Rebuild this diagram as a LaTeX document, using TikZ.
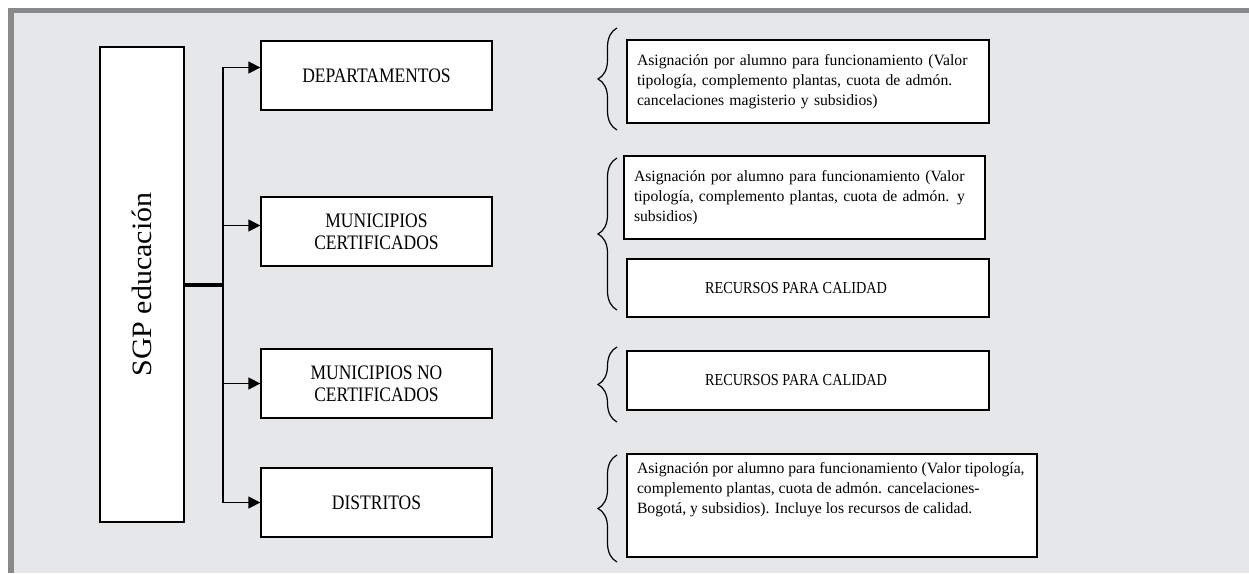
\documentclass[tikz,border=0pt]{standalone}
\usepackage{fontspec}
\setmainfont{Liberation Serif}
\newfontfamily\narrowfont[FakeStretch=0.85]{Liberation Serif}
\newfontfamily\widefont[FakeStretch=1.07]{Liberation Serif}
\usetikzlibrary{arrows.meta,decorations.pathreplacing,calc}

\definecolor{panelgray}{HTML}{E6E7E8}
\definecolor{framegray}{HTML}{88898B}

\begin{document}
\begin{tikzpicture}[x=1pt, y=-1pt,
        box/.style={draw, line width=1.3pt, fill=white, inner sep=0pt},
        midbox/.style={box, minimum width=231pt, minimum height=69pt, align=center,
            font=\narrowfont\fontsize{20.6}{21.7}\selectfont},
        infobox/.style={box, inner xsep=10pt, inner ysep=8pt, align=left,
            font=\fontsize{15.7}{20.3}\selectfont},
        calbox/.style={box, minimum width=362pt, align=center,
            font=\narrowfont\fontsize{16.8}{20}\selectfont},
        arr/.style={line width=1.4pt, -{Triangle[length=12pt, width=12pt]}},
        curly/.style={line width=1.2pt, decorate, decoration={brace, amplitude=19pt}}]
        \useasboundingbox (0,0) rectangle (1249,573);

        % Panel
        \fill[panelgray] (8,8) rectangle (1249,573);
        \fill[framegray] (8,8) rectangle (1249,13);
        \fill[framegray] (8,8) rectangle (14,573);

        % Source
        \node[box, rotate=90, minimum width=475pt, minimum height=84pt,
            font=\widefont\fontsize{28}{30}\selectfont] (sgp) at (142,284.5) {SGP educación};
        \coordinate (hub) at (223,284.5);
        \draw[line width=4pt] (sgp.south) -- (hub);

        % Receivers
        \node[midbox] (dep) at (376.5,75.5) {DEPARTAMENTOS};
        \node[midbox] (mcert) at (376.5,231.5) {MUNICIPIOS\\CERTIFICADOS};
        \node[midbox] (mnocert) at (376.5,383.5) {MUNICIPIOS NO\\CERTIFICADOS};
        \node[midbox] (dist) at (376.5,502.5) {DISTRITOS};

        \draw[arr] (hub) |- ($(dep.west)+(0,-8)$);
        \draw[arr] (hub) |- ($(mcert.west)+(0,-6)$);
        \draw[arr] (hub) |- (mnocert.west);
        \draw[arr] (hub) |- (dist.west);

        % Resources
        \node[infobox, text width=342pt, minimum height=83pt] (depinfo) at (808,81.5)
            {Asignación por alumno para funcionamiento (Valor\\
             tipología, complemento plantas, cuota de admón.\\
             cancelaciones magisterio y subsidios)};
        \node[infobox, text width=341pt, minimum height=83pt] (mcertinfo) at (804.5,197.5)
            {Asignación por alumno para funcionamiento (Valor\\
             tipología, complemento plantas, cuota de admón. y\\
             subsidios)};
        \node[calbox, minimum height=58pt] (mcertcal) at (808,288) {RECURSOS PARA CALIDAD\hspace*{24pt}};
        \node[calbox, minimum height=59pt] (mnocertcal) at (808,380.5) {RECURSOS PARA CALIDAD\hspace*{24pt}};
        \node[infobox] (distinfo) at (832,505.5)
            {\parbox[c][87pt][t]{390pt}{\raggedright
             Asignación por alumno para funcionamiento (Valor tipología,\\
             complemento plantas, cuota de admón. cancelaciones-\\
             Bogotá, y subsidios). Incluye los recursos de calidad.}};

        % Braces
        \draw[curly] (617,130) -- (617,28);
        \draw[curly] (617,310) -- (617,158);
        \draw[curly] (617,422) -- (617,347);
        \draw[curly] (617,562) -- (617,455);
\end{tikzpicture}
\end{document}
